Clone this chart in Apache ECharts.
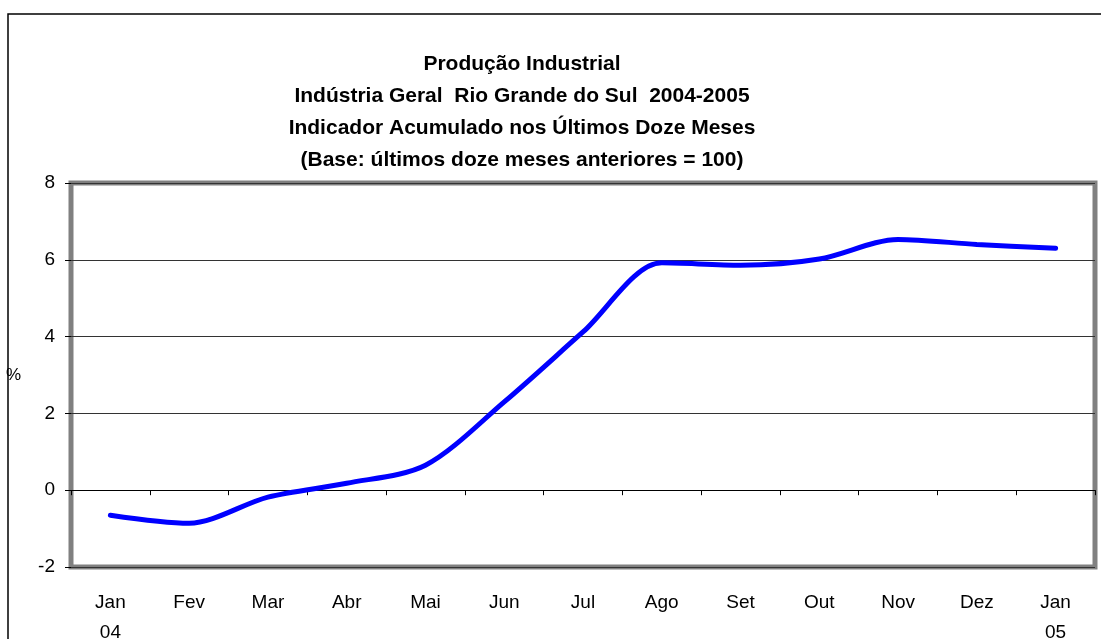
<!DOCTYPE html>
<html>
<head>
<meta charset="utf-8">
<script src="https://cdn.jsdelivr.net/npm/echarts@6/dist/echarts.min.js"></script>
<style>
  html, body { margin: 0; padding: 0; background: #fff; }
  #chart { width: 1101px; height: 639px; }
</style>
</head>
<body>
<div id="chart"></div>
<script>
const months = ['Jan\n04', 'Fev', 'Mar', 'Abr', 'Mai', 'Jun', 'Jul', 'Ago', 'Set', 'Out', 'Nov', 'Dez', 'Jan\n05'];
const indicador = [-0.65, -0.86, -0.18, 0.18, 0.65, 2.3, 4.12, 5.92, 5.86, 6.02, 6.53, 6.4, 6.3];
const yTicks = {min: -2, max: 8, step: 2};

const titleLines = [
  'Produção Industrial',
  'Indústria Geral  Rio Grande do Sul  2004-2005',
  'Indicador Acumulado nos Últimos Doze Meses',
  '(Base: últimos doze meses anteriores = 100)'
];

const font = 'Liberation Sans, Arial, sans-serif';
const chart = echarts.init(document.getElementById('chart'), null, {renderer: 'canvas'});

chart.setOption({
  animation: false,
  backgroundColor: '#fff',
  title: {
    text: titleLines.join('\n'),
    left: 522,
    top: 48,
    padding: 0,
    textAlign: 'center',
    textStyle: {
      fontFamily: font,
      fontWeight: 'bold',
      fontSize: 21,
      lineHeight: 32,
      color: '#000'
    }
  },
  graphic: [
    {
      type: 'rect',
      shape: {x: 8, y: 14, width: 1200, height: 700},
      style: {fill: 'none', stroke: '#000', lineWidth: 1.5},
      silent: true,
      z: -1
    }
  ],
  grid: {
    left: 71,
    right: 6,
    top: 183,
    bottom: 72,
    outerBoundsMode: 'none',
    containLabel: false,
    show: true,
    borderColor: '#808080',
    borderWidth: 5,
    backgroundColor: '#fff'
  },
  xAxis: [
    {
      type: 'category',
      data: months,
      position: 'bottom',
      boundaryGap: true,
      axisLine: {show: false, onZero: false},
      axisTick: {show: false},
      axisLabel: {
        margin: 21,
        fontFamily: font,
        fontSize: 19,
        lineHeight: 30,
        color: '#000',
        interval: 0
      },
      splitLine: {show: false}
    },
    {
      type: 'category',
      data: months,
      position: 'bottom',
      boundaryGap: true,
      axisLine: {show: true, onZero: true, lineStyle: {color: '#000', width: 1}},
      axisTick: {show: true, length: 5, lineStyle: {color: '#000'}},
      axisLabel: {show: false},
      splitLine: {show: false}
    }
  ],
  yAxis: {
    type: 'value',
    min: yTicks.min,
    max: yTicks.max,
    interval: yTicks.step,
    name: '%',
    nameLocation: 'middle',
    nameRotate: 0,
    nameGap: 50,
    nameTextStyle: {fontFamily: font, fontSize: 17, color: '#000'},
    axisLine: {show: false},
    axisTick: {show: true, length: 6, lineStyle: {color: '#000'}},
    axisLabel: {
      margin: 16,
      fontFamily: font,
      fontSize: 19,
      color: '#000'
    },
    splitLine: {
      show: true,
      lineStyle: {color: '#333', width: 1}
    }
  },
  series: [
    {
      name: 'Indicador',
      type: 'line',
      xAxisIndex: 0,
      data: indicador,
      smooth: 0.3,
      showSymbol: false,
      lineStyle: {color: '#0000ff', width: 5, cap: 'round'},
      itemStyle: {color: '#0000ff'}
    }
  ]
});
</script>
</body>
</html>
